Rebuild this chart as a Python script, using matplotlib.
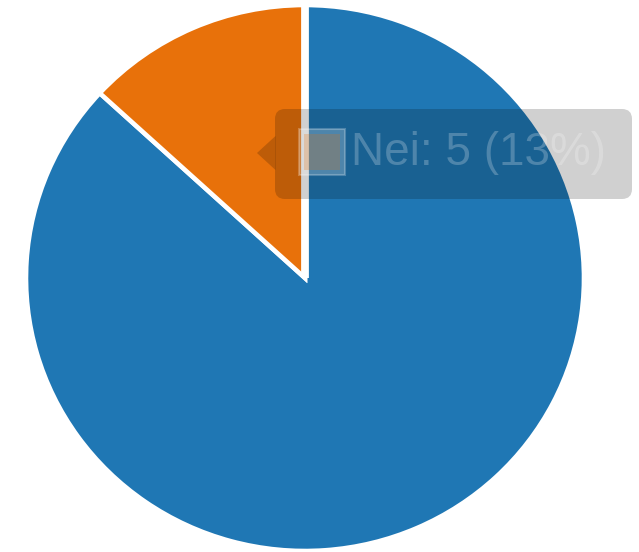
import matplotlib
matplotlib.use("Agg")
import numpy as np
import matplotlib.pyplot as plt
from matplotlib.patches import FancyBboxPatch, Polygon, Rectangle
from matplotlib.transforms import Affine2D

# Data
labels = ["Ja", "Nei"]
values = [33, 5]
colors = ["#1f77b4", "#e8710a"]

hover_index = 1
total = sum(values)
tooltip_text = f"{labels[hover_index]}: {values[hover_index]} ({round(100 * values[hover_index] / total)}%)"

W, H = 639, 552
fig = plt.figure(figsize=(W / 100, H / 100), dpi=100)
fig.patch.set_facecolor("white")

# axes placement in pixels (left, right, top, bottom)
l, r, t, b = 26, 584, 5, 551
ax = fig.add_axes([l / W, (H - b) / H, (r - l) / W, (b - t) / H])
wedges, _ = ax.pie(values, colors=colors, startangle=90, counterclock=False, radius=1,
                   wedgeprops=dict(edgecolor="white", linewidth=3.3))
# wider white seam at the start angle (as in the reference rendering)
th = np.deg2rad(wedges[0].theta2)
ax.plot([0, np.cos(th)], [0, np.sin(th)], color="white", lw=5.6,
        solid_capstyle="butt", zorder=5)
ax.set_aspect("auto")
ax.set_xlim(-1, 1)
ax.set_ylim(-1, 1)
ax.axis("off")

# Tooltip (fading in) in pixel coordinates, y from top
px = Affine2D().scale(1 / W, -1 / H).translate(0, 1) + fig.transFigure
a = 0.23  # tooltip opacity

box = FancyBboxPatch((275, 109), 357, 90,
                     boxstyle="round,pad=0,rounding_size=10",
                     transform=px, facecolor="black", edgecolor="none",
                     alpha=0.8 * a, zorder=10)
fig.patches.append(box)
caret = Polygon([[275.5, 136], [257, 153], [275.5, 170]], closed=True,
                transform=px, facecolor="black", edgecolor="none",
                alpha=0.8 * a, zorder=10)
fig.patches.append(caret)

# colour box: white key background + white border, then colour fill inset
sw_bg = Rectangle((299, 129), 46, 46, transform=px,
                  facecolor="white", edgecolor="white", linewidth=1.5,
                  alpha=a, zorder=11)
fig.patches.append(sw_bg)
sw = Rectangle((304, 134), 36, 36, transform=px,
               facecolor=colors[hover_index], edgecolor="none",
               alpha=a, zorder=12)
fig.patches.append(sw)

fig.text(351 / W, 1 - 165 / H, tooltip_text, transform=fig.transFigure,
         ha="left", va="baseline", fontsize=33, family="Liberation Sans",
         color="white", alpha=a, zorder=13)

fig.savefig("out.png", dpi=100)
